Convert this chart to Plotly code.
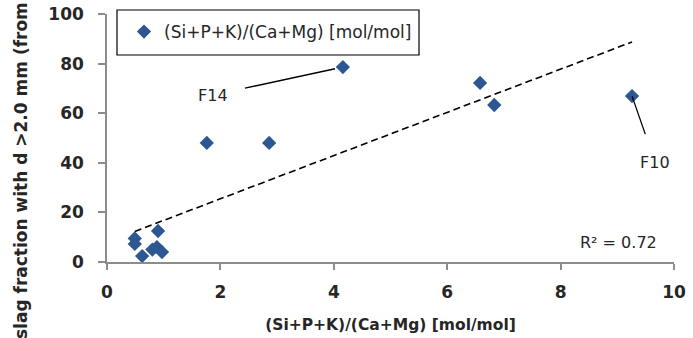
import numpy as np
import plotly.graph_objects as go

# ---- data ----
ratio = [0.49, 0.49, 0.62, 0.90, 0.80, 0.88, 0.97, 1.76, 2.86, 4.16, 6.58, 6.83, 9.26]
slag_pct = [9.5, 7.3, 2.4, 12.5, 5.0, 6.0, 4.0, 48.0, 48.0, 78.6, 72.2, 63.3, 66.9]
series_name = "(Si+P+K)/(Ca+Mg) [mol/mol]"
x_title = "(Si+P+K)/(Ca+Mg) [mol/mol]"
y_title = "slag fraction with d >2.0 mm (from"
x_ticks = [0, 2, 4, 6, 8, 10]
y_ticks = [0, 20, 40, 60, 80, 100]
label_names = ["F14", "F10"]
label_index = [9, 12]

# ---- linear trend ----
x_arr = np.array(ratio)
y_arr = np.array(slag_pct)
slope, intercept = np.polyfit(x_arr, y_arr, 1)
trend_x = [x_arr.min(), x_arr.max()]
trend_y = [slope * v + intercept for v in trend_x]
pred = slope * x_arr + intercept
r2 = 1 - ((y_arr - pred) ** 2).sum() / ((y_arr - y_arr.mean()) ** 2).sum()

FONT = "DejaVu Sans"
DARK = "#262626"
AXIS = "#8c8c8c"
BLUE = "#2D5792"

fig = go.Figure()
fig.add_trace(go.Scatter(
    x=trend_x, y=trend_y, mode="lines",
    line=dict(color="black", width=1.6, dash="7px,4px"),
    showlegend=False, hoverinfo="skip"))
fig.add_trace(go.Scatter(
    x=ratio, y=slag_pct, mode="markers", name=series_name,
    marker=dict(symbol="diamond", size=11, color=BLUE)))

W, H = 693, 338
L, R, T, B = 107, 19, 14, 76
pw, ph = W - L - R, H - T - B

def px_x(p):
    return (p - L) / pw

def px_y(p):
    return (H - B - p) / ph

fig.update_layout(
    width=W, height=H,
    margin=dict(l=L, r=R, t=T, b=B, autoexpand=False),
    paper_bgcolor="white", plot_bgcolor="white",
    font=dict(family=FONT, color=DARK),
    showlegend=True,
    legend=dict(x=px_x(124), y=px_y(32), xanchor="left", yanchor="middle",
                bgcolor="rgba(0,0,0,0)", borderwidth=0,
                font=dict(family=FONT, size=17, color=DARK)),
    xaxis=dict(range=[0, 10], tickvals=x_ticks, showgrid=False, zeroline=False,
               automargin=False,
               showline=True, linecolor=AXIS, linewidth=1.5,
               ticks="outside", ticklen=6, tickcolor=AXIS, tickwidth=1.5,
               ticklabelstandoff=8,
               tickfont=dict(family=FONT, size=17, color=DARK, weight="bold"),
               title=dict(text=x_title, standoff=18,
                          font=dict(family=FONT, size=15.5, color=DARK, weight="bold"))),
    yaxis=dict(range=[0, 100], tickvals=y_ticks, showgrid=False, zeroline=False,
               automargin=False,
               showline=True, linecolor=AXIS, linewidth=1.5,
               ticks="outside", ticklen=7, tickcolor=AXIS, tickwidth=1.5,
               ticklabelstandoff=11,
               tickfont=dict(family=FONT, size=17, color=DARK, weight="bold")),
)

# legend frame
fig.add_shape(type="rect", xref="paper", yref="paper",
              x0=px_x(117), x1=px_x(419), y0=px_y(55), y1=px_y(10),
              line=dict(color="black", width=1.2), fillcolor="white", layer="below")

# y-axis title
fig.add_annotation(text=y_title, xref="paper", yref="paper",
                   x=px_x(21), y=px_y(171), xanchor="center", yanchor="middle",
                   textangle=-90, showarrow=False,
                   font=dict(family=FONT, size=17, color=DARK, weight="bold"))

# point labels
offsets = {"F14": (-130, 28, 8, 16), "F10": (23, 66, 0, 18)}
for name, idx in zip(label_names, label_index):
    ax, ay, so, sso = offsets[name]
    fig.add_annotation(text=name, x=ratio[idx], y=slag_pct[idx],
                       ax=ax, ay=ay, showarrow=True, arrowhead=0,
                       arrowwidth=1.3, arrowcolor="black",
                       standoff=so, startstandoff=sso,
                       font=dict(family=FONT, size=16, color=DARK))

# R^2
fig.add_annotation(text=f"R² = {r2:.2f}", xref="paper", yref="paper",
                   x=px_x(659), y=px_y(242), xanchor="right", yanchor="middle",
                   showarrow=False, font=dict(family=FONT, size=16, color=DARK))

fig.write_html("out.html")
